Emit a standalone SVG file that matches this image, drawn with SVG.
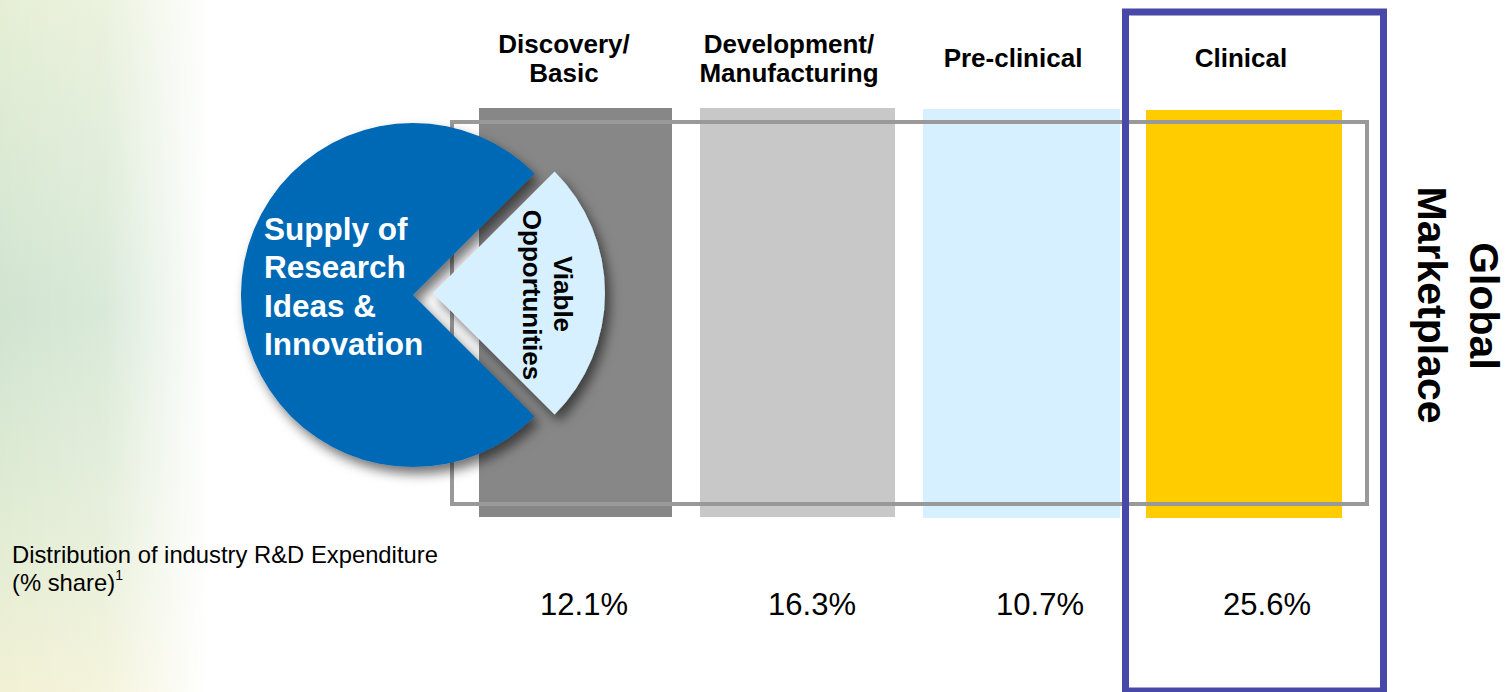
<svg xmlns="http://www.w3.org/2000/svg" width="1505" height="692" viewBox="0 0 1505 692">
<style>
  .lbl { font-family: "Liberation Sans", Arial, sans-serif; font-weight: bold; font-size: 26px; fill: #000; text-anchor: middle; }
  .pct { font-family: "Liberation Sans", Arial, sans-serif; font-size: 31px; fill: #000; text-anchor: middle; }
  .note { font-family: "Liberation Sans", Arial, sans-serif; font-size: 23.8px; fill: #000; }
  .supply { font-family: "Liberation Sans", Arial, sans-serif; font-weight: bold; font-size: 31.5px; fill: #fff; }
  .viable { font-family: "Liberation Sans", Arial, sans-serif; font-weight: bold; font-size: 26px; fill: #000; text-anchor: middle; }
  .global { font-family: "Liberation Sans", Arial, sans-serif; font-weight: bold; font-size: 41px; fill: #000; text-anchor: middle; }
</style>
<defs>
  <linearGradient id="bgv" x1="0" y1="0" x2="0" y2="1">
    <stop offset="0" stop-color="#e6efd6"/>
    <stop offset="0.45" stop-color="#d0e4d0"/>
    <stop offset="0.8" stop-color="#e4edd4"/>
    <stop offset="1" stop-color="#f2f1d4"/>
  </linearGradient>
  <linearGradient id="bgh" x1="0" y1="0" x2="1" y2="0">
    <stop offset="0" stop-color="#fff" stop-opacity="1"/>
    <stop offset="0.5" stop-color="#fff" stop-opacity="0.8"/>
    <stop offset="1" stop-color="#fff" stop-opacity="0"/>
  </linearGradient>
  <mask id="fade" maskUnits="userSpaceOnUse" x="0" y="0" width="210" height="692">
    <rect x="0" y="0" width="210" height="692" fill="url(#bgh)"/>
  </mask>
  <filter id="shadow" x="-20%" y="-20%" width="150%" height="150%">
    <feDropShadow dx="5" dy="7" stdDeviation="6" flood-color="#000" flood-opacity="0.55"/>
  </filter>
</defs>
<rect x="0" y="0" width="1505" height="692" fill="#fff"/>
<rect x="0" y="0" width="210" height="692" fill="url(#bgv)" mask="url(#fade)"/>

<g id="bar-discovery"><rect x="479" y="108" width="193" height="409" fill="#878787"/></g>
<g id="bar-development"><rect x="700" y="108" width="195" height="409" fill="#c8c8c8"/></g>
<g id="bar-preclinical"><rect x="923" y="109" width="197" height="409" fill="#d7f0ff"/></g>
<g id="bar-clinical"><rect x="1146" y="110" width="196" height="408" fill="#ffcc00"/></g>

<g id="frame"><rect x="452" y="122" width="915" height="382" fill="none" stroke="#999" stroke-width="4"/></g>

<g id="supply">
  <path d="M413,295 L534.6,173.4 A172,172 0 1 0 534.6,416.6 Z" fill="#0569b5" filter="url(#shadow)"/>
  <text class="supply" x="264" y="240">Supply of</text>
  <text class="supply" x="264" y="278">Research</text>
  <text class="supply" x="264" y="317">Ideas &amp;</text>
  <text class="supply" x="264" y="355">Innovation</text>
</g>

<g id="viable">
  <path d="M433,293 L554.6,171.4 A172,172 0 0 1 554.6,414.6 Z" fill="#d7f0ff" filter="url(#shadow)"/>
  <text class="viable" transform="translate(554,294) rotate(90)">Viable</text>
  <text class="viable" transform="translate(523,295) rotate(90)">Opportunities</text>
</g>

<g id="labels">
  <text class="lbl" x="564" y="53">Discovery/</text>
  <text class="lbl" x="564" y="82">Basic</text>
  <text class="lbl" x="789" y="53">Development/</text>
  <text class="lbl" x="789" y="82">Manufacturing</text>
  <text class="lbl" x="1013" y="67">Pre-clinical</text>
  <text class="lbl" x="1241" y="67">Clinical</text>
</g>

<g id="marketplace">
  <rect x="1125.5" y="12" width="258" height="679" fill="none" stroke="#4848a8" stroke-width="7"/>
  <text class="global" transform="translate(1470,306) rotate(90)">Global</text>
  <text class="global" transform="translate(1418,305) rotate(90)">Marketplace</text>
</g>

<g id="distribution">
  <text class="note" x="12" y="563">Distribution of industry R&amp;D Expenditure</text>
  <text class="note" x="12" y="591">(% share)<tspan font-size="14" dy="-11">1</tspan></text>
  <text class="pct" x="584" y="615">12.1%</text>
  <text class="pct" x="812" y="615">16.3%</text>
  <text class="pct" x="1040" y="615">10.7%</text>
  <text class="pct" x="1267" y="615">25.6%</text>
</g>
</svg>
